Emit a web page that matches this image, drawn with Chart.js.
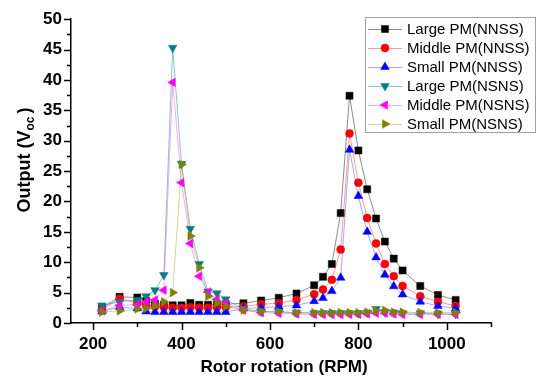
<!DOCTYPE html>
<html>
<head>
<meta charset="utf-8">
<script src="https://cdn.jsdelivr.net/npm/chart.js@4.4.1/dist/chart.umd.min.js"></script>
<style>
html,body{margin:0;padding:0;background:#fff;}
canvas{display:block;}
</style>
</head>
<body>
<canvas id="c" width="545" height="385"></canvas>
<script>
// ---- data ----
const rpm = [220,260,300,320,340,360,380,400,420,440,460,480,500,540,580,620,660,700,720,740,760,780,800,820,840,860,880,900,940,980,1020];
const largeNNSS  = [2.5,4.3,4.2,3.6,3.2,3.0,2.9,2.9,3.3,3.0,3.0,3.1,3.1,3.25,3.7,4.15,4.85,6.2,7.6,9.7,18.1,37.4,28.4,22.0,17.2,13.4,10.6,8.65,6.1,4.6,3.8];
const middleNNSS = [2.2,4.0,3.3,2.9,2.7,2.6,2.5,2.5,2.6,2.5,2.5,2.6,2.6,2.7,3.1,3.25,3.8,4.75,5.5,7.1,12.1,31.2,23.1,17.3,13.1,9.7,7.7,6.1,4.4,3.5,2.8];
const smallNNSS  = [1.9,2.6,2.4,1.9,1.8,1.8,1.8,1.8,1.8,1.8,1.8,1.8,1.8,2.4,2.5,2.7,2.9,3.6,4.1,5.25,7.45,28.5,20.9,15.0,10.8,7.95,6.05,4.7,3.5,2.8,2.4];
const largeNSNS  = [2.9,3.5,3.8,4.4,5.4,7.9,45.3,26.2,15.5,9.7,5.2,4.9,3.9,2.3,1.9,1.8,1.7,1.6,1.6,1.6,1.6,1.6,1.6,1.7,2.3,1.8,1.7,1.6,1.6,1.5,1.5];
const middleNSNS = [2.0,2.9,3.0,3.5,3.8,5.4,39.6,23.1,13.1,7.7,5.1,3.9,3.3,2.1,1.7,1.6,1.5,1.4,1.4,1.4,1.4,1.4,1.4,1.5,1.6,1.6,1.5,1.4,1.4,1.4,1.4];
const smallNSNS  = [1.8,2.0,2.3,2.4,2.8,3.5,5.0,26.1,14.3,9.1,4.4,3.3,2.7,2.1,1.9,1.9,1.7,1.7,1.7,1.7,1.7,1.7,1.7,1.8,2.0,2.1,1.8,1.8,1.7,1.7,1.7];
const seriesNames = ['Large PM(NNSS)','Middle PM(NNSS)','Small PM(NNSS)','Large PM(NSNS)','Middle PM(NSNS)','Small PM(NSNS)'];
const yTicks = [0,5,10,15,20,25,30,35,40,45,50];
const xTicks = [200,400,600,800,1000];
const xTitle = 'Rotor rotation (RPM)';
const yTitleMain = 'Output (V';
const yTitleSub = 'oc';
const yTitleEnd = ')';

// ---- styles ----
const seriesValues = [largeNNSS, middleNNSS, smallNNSS, largeNSNS, middleNSNS, smallNSNS];
const markerColors = ['#000000','#ff0000','#0000ff','#008080','#ff00ff','#808000'];
const lineColors = ['rgba(0,0,0,0.45)','rgba(255,0,0,0.4)','rgba(0,0,255,0.35)','rgba(0,128,128,0.45)','rgba(255,0,255,0.35)','rgba(128,128,0,0.35)'];
const styles = ['rect','circle','triangle','triangle','triangle','triangle'];
const rotations = [0,0,0,180,270,90];
const radii = [5,4,5,5,5,5];

const datasets = seriesValues.map((vals,i)=>({
  label: seriesNames[i],
  data: rpm.map((x,j)=>({x:x,y:vals[j]})),
  borderColor: lineColors[i],
  borderWidth: 1,
  backgroundColor: markerColors[i],
  pointBackgroundColor: markerColors[i],
  pointBorderColor: markerColors[i],
  pointBorderWidth: 0.5,
  pointStyle: styles[i],
  pointRotation: rotations[i],
  pointRadius: radii[i],
  tension: 0,
  order: 6 - i
}));

const FONT = '"Liberation Sans", Arial, sans-serif';

const decor = {
  id: 'decor',
  afterDraw(chart){
    const ctx = chart.ctx;
    const xs = chart.scales.x, ys = chart.scales.y;
    const left = xs.left, bottom = ys.bottom;
    ctx.save();
    ctx.strokeStyle = '#000';
    ctx.lineWidth = 1.5;
    ctx.beginPath();
    for (let v = 0; v <= 50; v += 2.5) {
      const p = Math.round(ys.getPixelForValue(v)) + 0.5;
      const len = (v % 5 === 0) ? 7 : 4;
      ctx.moveTo(left - len, p); ctx.lineTo(left, p);
    }
    for (let v = 200; v <= 1100; v += 100) {
      const p = Math.round(xs.getPixelForValue(v)) + 0.5;
      const len = (v % 200 === 0) ? 7 : 4;
      ctx.moveTo(p, bottom); ctx.lineTo(p, bottom + len);
    }
    ctx.stroke();

    // x title
    ctx.fillStyle = '#000';
    ctx.font = 'bold 17px ' + FONT;
    ctx.textAlign = 'center';
    ctx.textBaseline = 'middle';
    ctx.fillText(xTitle, 284, 367);

    // y title with subscript
    ctx.save();
    ctx.translate(24, 160);
    ctx.rotate(-Math.PI/2);
    const bigF = 'bold 18px ' + FONT, smallF = 'bold 12px ' + FONT;
    ctx.font = bigF; const w1 = ctx.measureText(yTitleMain).width; const w3 = ctx.measureText(yTitleEnd).width;
    ctx.font = smallF; const w2 = ctx.measureText(yTitleSub).width;
    let tx = -(w1 + w2 + w3 + 3) / 2;
    ctx.textAlign = 'left';
    ctx.textBaseline = 'alphabetic';
    ctx.font = bigF; ctx.fillText(yTitleMain, tx, 6); tx += w1;
    ctx.font = smallF; ctx.fillText(yTitleSub, tx, 10); tx += w2 + 3;
    ctx.font = bigF; ctx.fillText(yTitleEnd, tx, 6);
    ctx.restore();

    // legend
    const lx = 365, ly = 17, lw = 170, lh = 115;
    ctx.fillStyle = '#fff';
    ctx.fillRect(lx, ly, lw, lh);
    ctx.strokeStyle = '#a0a0a0';
    ctx.lineWidth = 1;
    ctx.strokeRect(lx + 0.5, ly + 0.5, lw, lh);
    ctx.font = '15px ' + FONT;
    ctx.textAlign = 'left';
    ctx.textBaseline = 'middle';
    for (let i = 0; i < seriesNames.length; i++) {
      const yy = 29 + i * 19;
      ctx.strokeStyle = lineColors[i];
      ctx.lineWidth = 1;
      ctx.beginPath(); ctx.moveTo(368, yy + 0.5); ctx.lineTo(402, yy + 0.5); ctx.stroke();
      ctx.fillStyle = markerColors[i];
      ctx.strokeStyle = markerColors[i];
      ctx.lineWidth = 0.5;
      Chart.helpers.drawPoint(ctx, {pointStyle: styles[i], rotation: rotations[i], radius: radii[i], borderWidth: 0.5}, 385, yy);
      ctx.fillStyle = '#000';
      ctx.fillText(seriesNames[i], 407, yy + 1);
    }
    ctx.restore();
  }
};

new Chart(document.getElementById('c'), {
  type: 'line',
  data: { datasets: datasets },
  options: {
    responsive: false,
    devicePixelRatio: 1,
    animation: false,
    layout: { padding: { left: 0, right: 54, top: 15, bottom: 0 } },
    plugins: { legend: { display: false }, tooltip: { enabled: false } },
    scales: {
      x: {
        type: 'linear', min: 150, max: 1100,
        afterFit(s){ s.height = 62; },
        afterBuildTicks(s){ s.ticks = xTicks.map(v=>({value:v})); },
        grid: { display: false, drawTicks: false },
        border: { display: true, color: '#000', width: 1.5 },
        ticks: { color: '#000', font: { family: FONT, size: 17, weight: 'bold' }, padding: 11, maxRotation: 0, callback: v => String(v) }
      },
      y: {
        type: 'linear', min: 0, max: 50,
        afterFit(s){ s.width = 71; },
        afterBuildTicks(s){ s.ticks = yTicks.map(v=>({value:v})); },
        grid: { display: false, drawTicks: false },
        border: { display: true, color: '#000', width: 1.5 },
        ticks: { color: '#000', font: { family: FONT, size: 17, weight: 'bold' }, padding: 9, callback: v => String(v) }
      }
    }
  },
  plugins: [decor]
});
</script>
</body>
</html>
